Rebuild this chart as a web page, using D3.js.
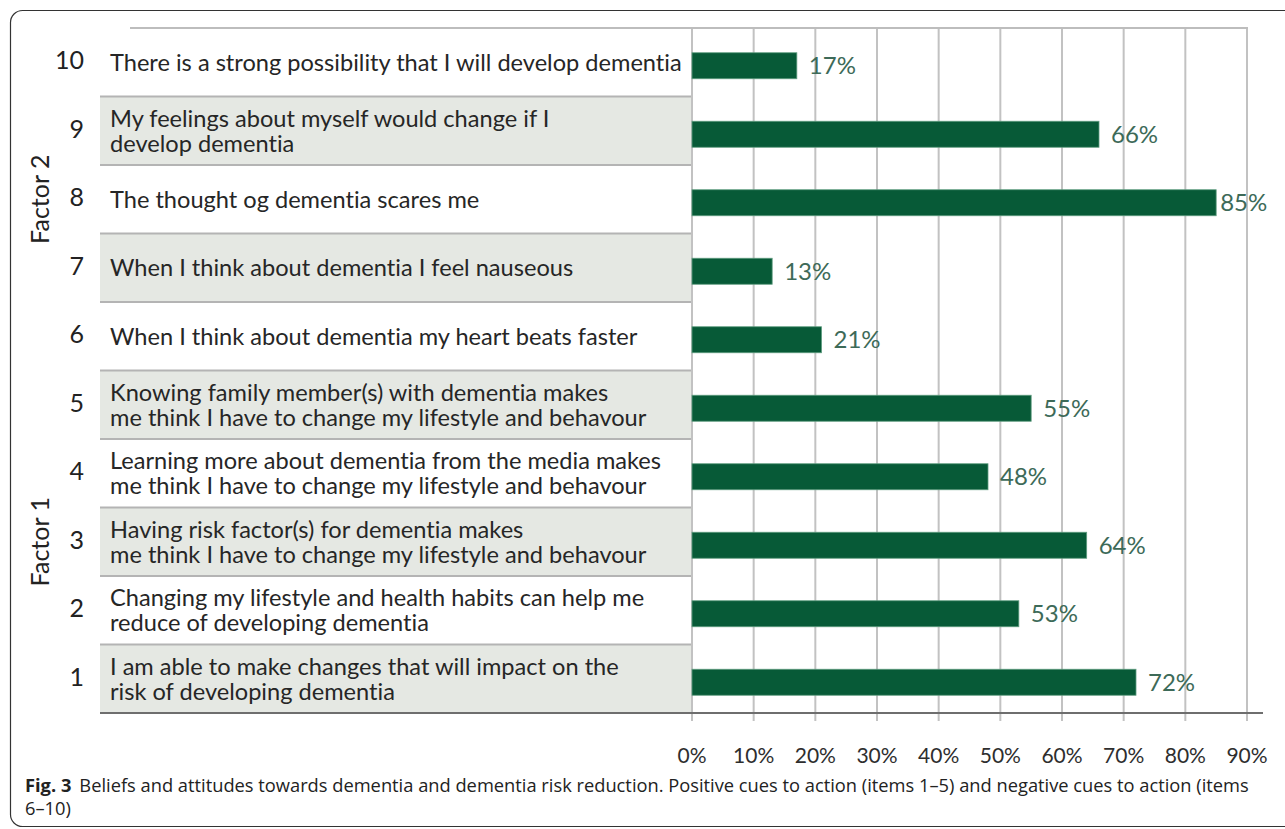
<!DOCTYPE html>
<html>
<head>
<meta charset="utf-8">
<script src="https://cdn.jsdelivr.net/npm/d3@7"></script>
<style>
    body { margin: 0; background: #fff; }
    svg { display: block; }
    text { font-variant-ligatures: none; }
    .item-label { font-family: Lato, 'Open Sans', sans-serif; font-size: 23.6px; fill: #262626; }
    .item-num { font-family: Lato, 'Open Sans', sans-serif; font-size: 25px; fill: #222; }
    .factor-label { font-family: Lato, 'Open Sans', sans-serif; font-size: 25px; fill: #222; }
    .value-label { font-family: Lato, 'Open Sans', sans-serif; font-size: 24px; fill: #3d6a58; }
    .tick-label { font-family: Lato, 'Open Sans', sans-serif; font-size: 21px; fill: #2e2e2e; }
    .caption { font-family: 'Open Sans', 'Noto Sans', sans-serif; font-size: 18.3px; fill: #222; }
</style>
</head>
<body>
<svg id="chart" width="1285" height="829"></svg>
<script>
// items, top to bottom order is 10 -> 1
const items = [10, 9, 8, 7, 6, 5, 4, 3, 2, 1];
const itemLabels = [
    ['There is a strong possibility that I will develop dementia'],
    ['My feelings about myself would change if I', 'develop dementia'],
    ['The thought og dementia scares me'],
    ['When I think about dementia I feel nauseous'],
    ['When I think about dementia my heart beats faster'],
    ['Knowing family member(s) with dementia makes', 'me think I have to change my lifestyle and behavour'],
    ['Learning more about dementia from the media makes', 'me think I have to change my lifestyle and behavour'],
    ['Having risk factor(s) for dementia makes', 'me think I have to change my lifestyle and behavour'],
    ['Changing my lifestyle and health habits can help me', 'reduce of developing dementia'],
    ['I am able to make changes that will impact on the', 'risk of developing dementia']
];
const values = [17, 66, 85, 13, 21, 55, 48, 64, 53, 72];

const factorNames = ['Factor 2', 'Factor 1'];
const factorItems = [[10, 9, 8, 7, 6], [5, 4, 3, 2, 1]];

const xTicks = [0, 10, 20, 30, 40, 50, 60, 70, 80, 90];

const captionBold = 'Fig. 3';
const captionLines = [
    'Beliefs and attitudes towards dementia and dementia risk reduction. Positive cues to action (items 1\u20135) and negative cues to action (items',
    '6\u201310)'
];

const rows = items.map((id, i) => ({ id: id, label: itemLabels[i], value: values[i] }));

const svg = d3.select('#chart');

const DIM = {
    table_left: 100,
    plot_left: 692,
    plot_right: 1247,
    top: 28,
    bottom: 713
};

const x = d3.scaleLinear()
    .domain([0, 90])
    .range([DIM.plot_left, DIM.plot_right]);

const y = d3.scaleBand()
    .domain(items)
    .range([DIM.top, DIM.bottom]);

const bw = y.bandwidth();

// outer frame
svg.append('rect')
    .attr('x', 10.5).attr('y', 10.5)
    .attr('width', 1320).attr('height', 816)
    .attr('rx', 12)
    .attr('fill', 'none')
    .attr('stroke', '#333')
    .attr('stroke-width', 1.2);

// shaded label rows (alternating)
svg.append('g')
    .selectAll('rect')
    .data(rows.filter((d, i) => i % 2 === 1))
    .join('rect')
    .attr('x', DIM.table_left)
    .attr('y', d => y(d.id))
    .attr('width', DIM.plot_left - DIM.table_left)
    .attr('height', bw)
    .attr('fill', '#e5e8e3');

// row separators in the label column
svg.append('g')
    .selectAll('line')
    .data(items.slice(1))
    .join('line')
    .attr('x1', DIM.table_left)
    .attr('x2', DIM.plot_left)
    .attr('y1', d => y(d))
    .attr('y2', d => y(d))
    .attr('stroke', '#b4b4b4')
    .attr('stroke-width', 2);

// vertical grid
svg.append('g')
    .selectAll('line')
    .data(xTicks)
    .join('line')
    .attr('x1', d => x(d))
    .attr('x2', d => x(d))
    .attr('y1', DIM.top)
    .attr('y2', DIM.bottom + 8)
    .attr('stroke', '#c2c2c2')
    .attr('stroke-width', 2);

// top rule
svg.append('line')
    .attr('x1', 130).attr('x2', x(90) + 1)
    .attr('y1', DIM.top).attr('y2', DIM.top)
    .attr('stroke', '#bdbdbd')
    .attr('stroke-width', 2);

// bottom axis rule
svg.append('line')
    .attr('x1', DIM.table_left).attr('x2', 1263)
    .attr('y1', DIM.bottom).attr('y2', DIM.bottom)
    .attr('stroke', '#6e6e6e')
    .attr('stroke-width', 2);

// bars
svg.append('g')
    .selectAll('rect')
    .data(rows)
    .join('rect')
    .attr('x', x(0))
    .attr('y', d => y(d.id) + bw / 2 - 9.5)
    .attr('width', d => x(d.value) - x(0))
    .attr('height', 26)
    .attr('fill', '#075a37')
    .attr('stroke', '#5e9c7f')
    .attr('stroke-width', 0.8);

// value labels
svg.append('g')
    .selectAll('text')
    .data(rows)
    .join('text')
    .attr('class', 'value-label')
    .attr('x', d => Math.min(x(d.value) + 12, x(85) + 4))
    .attr('y', d => y(d.id) + bw / 2 + 3.5)
    .attr('dy', '0.36em')
    .text(d => d.value + '%');

// item numbers
svg.append('g')
    .selectAll('text')
    .data(rows)
    .join('text')
    .attr('class', 'item-num')
    .attr('x', 84)
    .attr('y', d => y(d.id) + bw / 2 - 2)
    .attr('dy', '0.36em')
    .attr('text-anchor', 'end')
    .text(d => d.id);

// item labels
const labelText = svg.append('g')
    .selectAll('text')
    .data(rows)
    .join('text')
    .attr('class', 'item-label')
    .attr('x', 110)
    .attr('y', d => y(d.id) + bw / 2 - (d.label.length - 1) * 12.5);

labelText.selectAll('tspan')
    .data(d => d.label)
    .join('tspan')
    .attr('x', 110)
    .attr('dy', (d, i) => i === 0 ? '0.36em' : 25)
    .text(d => d);

// factor labels
svg.append('g')
    .selectAll('text')
    .data(factorNames)
    .join('text')
    .attr('class', 'factor-label')
    .attr('transform', (d, i) => {
        const ids = factorItems[i];
        const cy = (y(ids[0]) + y(ids[ids.length - 1]) + bw) / 2;
        return `translate(40, ${cy}) rotate(-90)`;
    })
    .attr('text-anchor', 'middle')
    .attr('dy', '0.36em')
    .text(d => d);

// x tick labels
svg.append('g')
    .selectAll('text')
    .data(xTicks)
    .join('text')
    .attr('class', 'tick-label')
    .attr('x', d => x(d))
    .attr('y', 755)
    .attr('dy', '0.36em')
    .attr('text-anchor', 'middle')
    .text(d => d + '%');

// caption
const cap1 = svg.append('text')
    .attr('class', 'caption')
    .attr('x', 25)
    .attr('y', 792);
cap1.append('tspan')
    .attr('font-weight', 'bold')
    .text(captionBold);
cap1.append('tspan')
    .attr('dx', 8)
    .text(captionLines[0]);

svg.append('text')
    .attr('class', 'caption')
    .attr('x', 25)
    .attr('y', 815)
    .text(captionLines[1]);
</script>
</body>
</html>
